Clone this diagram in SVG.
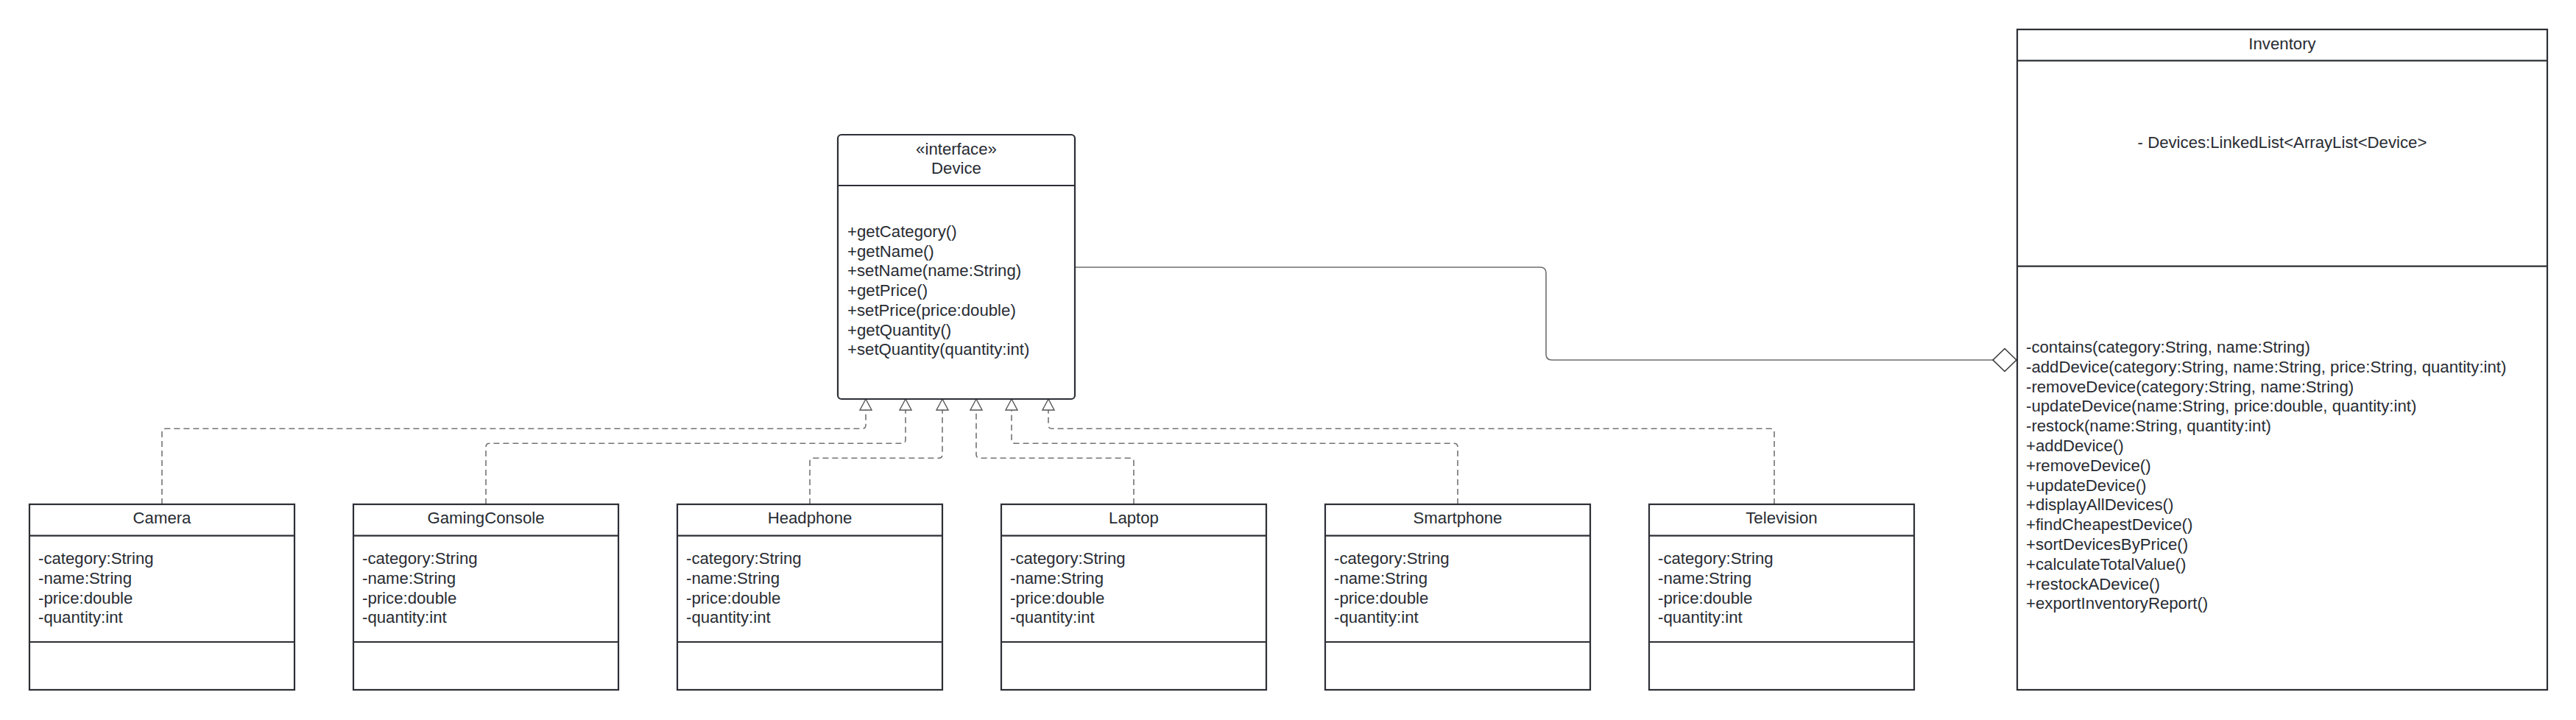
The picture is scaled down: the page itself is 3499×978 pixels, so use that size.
<svg xmlns="http://www.w3.org/2000/svg" width="3499" height="978" viewBox="0 0 3499 978">
<style>
  .box { fill: #ffffff; stroke: #2c2f36; stroke-width: 2.2; }
  .div { stroke: #2c2f36; stroke-width: 2.2; }
  .t { font-family: "Liberation Sans", Arial, sans-serif; font-size: 22.2px; fill: #282c33; }
  .c { text-anchor: middle; }
  .dash { fill: none; stroke: #747474; stroke-width: 1.6; stroke-dasharray: 8 5; }
  .solid { fill: none; stroke: #6e6e6e; stroke-width: 1.6; }
</style>
<defs>
  <marker id="tri" markerUnits="userSpaceOnUse" markerWidth="18" markerHeight="18" viewBox="0 0 16 18" refX="15" refY="9" orient="auto" overflow="visible">
    <path d="M15,9 L0,1 L0,17 Z" fill="#ffffff" stroke="#555555" stroke-width="1.4" stroke-linejoin="miter"/>
  </marker>
  <marker id="dia" markerUnits="userSpaceOnUse" markerWidth="32" markerHeight="32" viewBox="0 0 30 30" refX="30" refY="15" orient="auto" overflow="visible">
    <path d="M0,15 L15,0.5 L30,15 L15,29.5 Z" fill="#ffffff" stroke="#333333" stroke-width="1.4"/>
  </marker>
</defs>
<rect width="3499" height="978" fill="#ffffff"/>

<g id="connectors">
  <path class="dash" marker-end="url(#tri)" d="M220,685 V587.3 Q220,582.3 225,582.3 H1171 Q1176,582.3 1176,577.3 V542"/>
  <path class="dash" marker-end="url(#tri)" d="M660,685 V607.3 Q660,602.3 665,602.3 H1225 Q1230,602.3 1230,597.3 V542"/>
  <path class="dash" marker-end="url(#tri)" d="M1100,685 V627.3 Q1100,622.3 1105,622.3 H1275 Q1280,622.3 1280,617.3 V542"/>
  <path class="dash" marker-end="url(#tri)" d="M1540,685 V627.3 Q1540,622.3 1535,622.3 H1331 Q1326,622.3 1326,617.3 V542"/>
  <path class="dash" marker-end="url(#tri)" d="M1980,685 V607.3 Q1980,602.3 1975,602.3 H1379 Q1374,602.3 1374,597.3 V542"/>
  <path class="dash" marker-end="url(#tri)" d="M2410,685 V587.3 Q2410,582.3 2405,582.3 H1429 Q1424,582.3 1424,577.3 V542"/>
  <path class="solid" marker-end="url(#dia)" d="M1460,363 H2092 Q2100,363 2100,371 V481 Q2100,489 2108,489 H2739"/>
</g>

<g id="device">
  <rect class="box" x="1138" y="183" width="322" height="359" rx="5"/>
  <line class="div" x1="1138" y1="252" x2="1460" y2="252"/>
  <text class="t c" x="1299" y="210">«interface»</text>
  <text class="t c" x="1299" y="236">Device</text>
  <text class="t" x="1151" y="322">
    <tspan x="1151" dy="0">+getCategory()</tspan>
    <tspan x="1151" dy="26.7">+getName()</tspan>
    <tspan x="1151" dy="26.7">+setName(name:String)</tspan>
    <tspan x="1151" dy="26.7">+getPrice()</tspan>
    <tspan x="1151" dy="26.7">+setPrice(price:double)</tspan>
    <tspan x="1151" dy="26.7">+getQuantity()</tspan>
    <tspan x="1151" dy="26.7">+setQuantity(quantity:int)</tspan>
  </text>
</g>

<g id="inventory">
  <rect class="box" x="2740" y="40" width="720" height="897"/>
  <line class="div" x1="2740" y1="82.3" x2="3460" y2="82.3"/>
  <line class="div" x1="2740" y1="361.7" x2="3460" y2="361.7"/>
  <text class="t c" x="3100" y="67">Inventory</text>
  <text class="t c" x="3100" y="201">- Devices:LinkedList&lt;ArrayList&lt;Device&gt;</text>
  <text class="t" x="2752" y="479">
    <tspan x="2752" dy="0">-contains(category:String, name:String)</tspan>
    <tspan x="2752" dy="26.8">-addDevice(category:String, name:String, price:String, quantity:int)</tspan>
    <tspan x="2752" dy="26.8">-removeDevice(category:String, name:String)</tspan>
    <tspan x="2752" dy="26.8">-updateDevice(name:String, price:double, quantity:int)</tspan>
    <tspan x="2752" dy="26.8">-restock(name:String, quantity:int)</tspan>
    <tspan x="2752" dy="26.8">+addDevice()</tspan>
    <tspan x="2752" dy="26.8">+removeDevice()</tspan>
    <tspan x="2752" dy="26.8">+updateDevice()</tspan>
    <tspan x="2752" dy="26.8">+displayAllDevices()</tspan>
    <tspan x="2752" dy="26.8">+findCheapestDevice()</tspan>
    <tspan x="2752" dy="26.8">+sortDevicesByPrice()</tspan>
    <tspan x="2752" dy="26.8">+calculateTotalValue()</tspan>
    <tspan x="2752" dy="26.8">+restockADevice()</tspan>
    <tspan x="2752" dy="26.8">+exportInventoryReport()</tspan>
  </text>
</g>

<g id="camera">
  <rect class="box" x="40" y="685" width="360" height="252"/>
  <line class="div" x1="40" y1="727.7" x2="400" y2="727.7"/>
  <line class="div" x1="40" y1="872" x2="400" y2="872"/>
  <text class="t c" x="220" y="711">Camera</text>
  <text class="t" x="52" y="766.2"><tspan x="52" dy="0">-category:String</tspan><tspan x="52" dy="26.7">-name:String</tspan><tspan x="52" dy="26.7">-price:double</tspan><tspan x="52" dy="26.7">-quantity:int</tspan></text>
</g>

<g id="gamingconsole">
  <rect class="box" x="480" y="685" width="360" height="252"/>
  <line class="div" x1="480" y1="727.7" x2="840" y2="727.7"/>
  <line class="div" x1="480" y1="872" x2="840" y2="872"/>
  <text class="t c" x="660" y="711">GamingConsole</text>
  <text class="t" x="492" y="766.2"><tspan x="492" dy="0">-category:String</tspan><tspan x="492" dy="26.7">-name:String</tspan><tspan x="492" dy="26.7">-price:double</tspan><tspan x="492" dy="26.7">-quantity:int</tspan></text>
</g>

<g id="headphone">
  <rect class="box" x="920" y="685" width="360" height="252"/>
  <line class="div" x1="920" y1="727.7" x2="1280" y2="727.7"/>
  <line class="div" x1="920" y1="872" x2="1280" y2="872"/>
  <text class="t c" x="1100" y="711">Headphone</text>
  <text class="t" x="932" y="766.2"><tspan x="932" dy="0">-category:String</tspan><tspan x="932" dy="26.7">-name:String</tspan><tspan x="932" dy="26.7">-price:double</tspan><tspan x="932" dy="26.7">-quantity:int</tspan></text>
</g>

<g id="laptop">
  <rect class="box" x="1360" y="685" width="360" height="252"/>
  <line class="div" x1="1360" y1="727.7" x2="1720" y2="727.7"/>
  <line class="div" x1="1360" y1="872" x2="1720" y2="872"/>
  <text class="t c" x="1540" y="711">Laptop</text>
  <text class="t" x="1372" y="766.2"><tspan x="1372" dy="0">-category:String</tspan><tspan x="1372" dy="26.7">-name:String</tspan><tspan x="1372" dy="26.7">-price:double</tspan><tspan x="1372" dy="26.7">-quantity:int</tspan></text>
</g>

<g id="smartphone">
  <rect class="box" x="1800" y="685" width="360" height="252"/>
  <line class="div" x1="1800" y1="727.7" x2="2160" y2="727.7"/>
  <line class="div" x1="1800" y1="872" x2="2160" y2="872"/>
  <text class="t c" x="1980" y="711">Smartphone</text>
  <text class="t" x="1812" y="766.2"><tspan x="1812" dy="0">-category:String</tspan><tspan x="1812" dy="26.7">-name:String</tspan><tspan x="1812" dy="26.7">-price:double</tspan><tspan x="1812" dy="26.7">-quantity:int</tspan></text>
</g>

<g id="television">
  <rect class="box" x="2240" y="685" width="360" height="252"/>
  <line class="div" x1="2240" y1="727.7" x2="2600" y2="727.7"/>
  <line class="div" x1="2240" y1="872" x2="2600" y2="872"/>
  <text class="t c" x="2420" y="711">Television</text>
  <text class="t" x="2252" y="766.2"><tspan x="2252" dy="0">-category:String</tspan><tspan x="2252" dy="26.7">-name:String</tspan><tspan x="2252" dy="26.7">-price:double</tspan><tspan x="2252" dy="26.7">-quantity:int</tspan></text>
</g>
</svg>
